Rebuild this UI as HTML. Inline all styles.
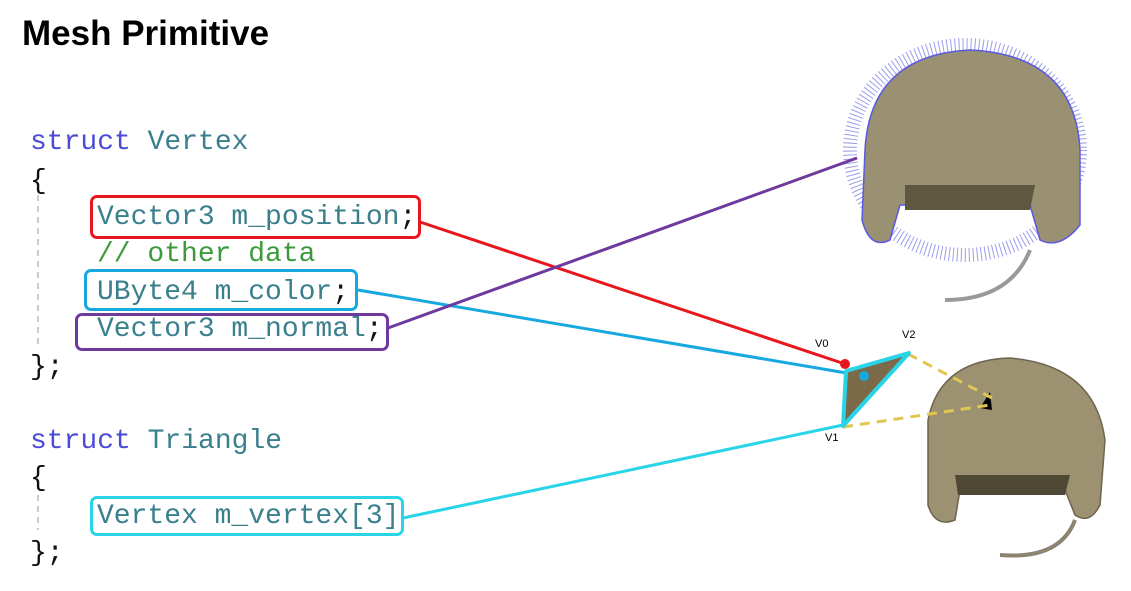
<!DOCTYPE html>
<html><head><meta charset="utf-8"><style>
body{margin:0;width:1131px;height:591px;background:#fff;overflow:hidden;position:relative;font-family:"Liberation Sans",sans-serif}
.t{position:absolute;left:22px;top:14px;font-size:35px;font-weight:bold;color:#000}
.c{position:absolute;font-family:"Liberation Mono","Courier New",monospace;font-size:28px;color:#3a7f8c;white-space:pre;line-height:1}
.k{color:#4b4bd8}.g{color:#3c9a3c}.p{color:#111}
.b{position:absolute;border:3px solid;border-radius:7px;box-sizing:border-box}
</style></head><body>
<div class="t">Mesh Primitive</div>
<svg width="1131" height="591" style="position:absolute;left:0;top:0">
<line x1="38" y1="195" x2="38" y2="345" stroke="#ccc" stroke-width="2" stroke-dasharray="6,5"/>
<line x1="38" y1="495" x2="38" y2="530" stroke="#ccc" stroke-width="2" stroke-dasharray="6,5"/>
<g>
<ellipse cx="965" cy="150" rx="115" ry="105" fill="none" stroke="#5a5ae0" stroke-width="14" stroke-dasharray="1,3" opacity="0.6"/>
<path d="M865,150 Q870,55 970,50 Q1075,55 1080,150 L1080,225 Q1060,250 1040,240 L1030,205 L900,205 L890,240 Q870,250 862,220 Z" fill="#9a9072" stroke="#5a5ae0" stroke-width="1.5"/>
<path d="M905,185 L1035,185 L1030,210 L905,210 Z" fill="#5f5840"/>
<path d="M1030,250 Q1010,300 945,300" fill="none" stroke="#999" stroke-width="4"/>
</g>
<g>
<path d="M928,420 Q940,360 1010,358 Q1095,365 1105,440 L1100,505 Q1090,525 1075,515 L1065,490 L960,490 L955,520 Q935,528 928,505 Z" fill="#9c9272" stroke="#6d6550" stroke-width="1.5"/>
<path d="M955,475 L1070,475 L1065,495 L958,495 Z" fill="#4e4835"/>
<path d="M1075,520 Q1060,560 1000,555" fill="none" stroke="#8c8370" stroke-width="4"/>
<polygon points="980,408 990,392 992,410" fill="#000"/>
</g>
<line x1="908" y1="354" x2="992" y2="398" stroke="#e0c850" stroke-width="3" stroke-dasharray="10,7"/>
<line x1="843" y1="427" x2="990" y2="405" stroke="#e0c850" stroke-width="3" stroke-dasharray="10,7"/>
<line x1="420" y1="222" x2="845" y2="364" stroke="#e8171e" stroke-width="3"/>
<line x1="358" y1="290" x2="864" y2="376" stroke="#17a8e0" stroke-width="3"/>
<line x1="388" y1="328" x2="857" y2="158" stroke="#6e3a9e" stroke-width="3"/>
<line x1="403" y1="518" x2="843" y2="425" stroke="#2ad4e8" stroke-width="3"/>
<polygon points="846,371 909,353 843,426" fill="#7a6a48" stroke="#2ad4e8" stroke-width="4" stroke-linejoin="round"/>
<circle cx="845" cy="364" r="5" fill="#e8171e"/>
<circle cx="864" cy="376" r="5" fill="#17a8e0"/>
<text x="815" y="347" font-size="11" font-family="Liberation Sans">V0</text>
<text x="902" y="338" font-size="11" font-family="Liberation Sans">V2</text>
<text x="825" y="441" font-size="11" font-family="Liberation Sans">V1</text>
</svg>
<div class="b" style="left:90px;top:195px;width:331px;height:44px;border-color:#e8171e"></div>
<div class="b" style="left:84px;top:269px;width:274px;height:42px;border-color:#17a8e0"></div>
<div class="b" style="left:75px;top:313px;width:314px;height:38px;border-color:#6e3a9e"></div>
<div class="b" style="left:90px;top:496px;width:314px;height:40px;border-color:#2ad4e8"></div>
<div class="c" style="left:30px;top:129px"><span class="k">struct</span> Vertex</div>
<div class="c p" style="left:30px;top:168px">{</div>
<div class="c" style="left:97px;top:204px">Vector3 m_position<span class="p">;</span></div>
<div class="c g" style="left:97px;top:241px">// other data</div>
<div class="c" style="left:97px;top:279px">UByte4 m_color<span class="p">;</span></div>
<div class="c" style="left:97px;top:316px">Vector3 m_normal<span class="p">;</span></div>
<div class="c p" style="left:30px;top:354px">};</div>
<div class="c" style="left:30px;top:428px"><span class="k">struct</span> Triangle</div>
<div class="c p" style="left:30px;top:465px">{</div>
<div class="c" style="left:97px;top:503px">Vertex m_vertex[3]</div>
<div class="c p" style="left:30px;top:540px">};</div>
</body></html>
